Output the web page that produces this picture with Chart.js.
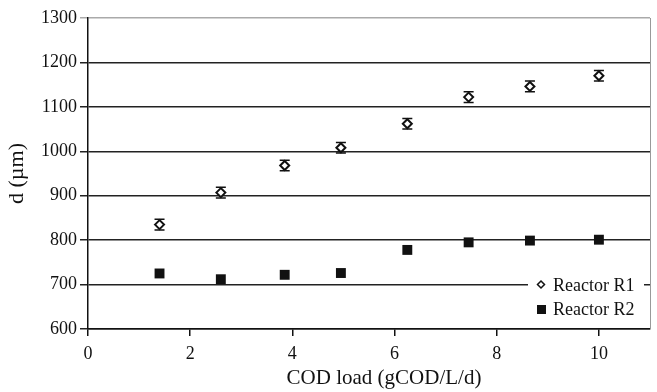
<!DOCTYPE html>
<html>
<head>
<meta charset="utf-8">
<script src="https://cdn.jsdelivr.net/npm/chart.js"></script>
<style>
  html, body { margin: 0; padding: 0; background: #fff; }
  #wrap { width: 657px; height: 392px; }
</style>
</head>
<body>
<div id="wrap"><canvas id="chart" width="657" height="392"></canvas></div>
<script>
// values
const codLoad = [1.4, 2.6, 3.85, 4.95, 6.25, 7.45, 8.65, 10.0];
const r1Diam = [835, 907, 968, 1008, 1062, 1122, 1146, 1170];
const r1Err = [12, 12, 12, 12, 12, 12, 12, 12];
const r2Diam = [725, 712, 722, 726, 778, 795, 799, 801];
const xTicks = [0, 2, 4, 6, 8, 10];
const yTicks = [600, 700, 800, 900, 1000, 1100, 1200, 1300];

const FONT = "'Liberation Serif', 'Times New Roman', serif";

const errorBars = {
  id: 'errorBars',
  afterDatasetsDraw(chart) {
    const { ctx, scales: { x, y } } = chart;
    ctx.save();
    ctx.strokeStyle = '#111';
    ctx.lineWidth = 1.5;
    codLoad.forEach((v, i) => {
      const px = x.getPixelForValue(v);
      const top = y.getPixelForValue(r1Diam[i] + r1Err[i]);
      const bot = y.getPixelForValue(r1Diam[i] - r1Err[i]);
      ctx.beginPath();
      ctx.moveTo(px - 5, top); ctx.lineTo(px + 5, top);
      ctx.moveTo(px - 5, bot); ctx.lineTo(px + 5, bot);
      ctx.stroke();
    });
    ctx.restore();
  }
};

const frameAndLegend = {
  id: 'frameAndLegend',
  afterDraw(chart) {
    const { ctx, chartArea: a } = chart;
    ctx.save();
    ctx.strokeStyle = '#999';
    ctx.lineWidth = 1;
    ctx.beginPath();
    ctx.moveTo(a.right + 0.5, a.top);
    ctx.lineTo(a.right + 0.5, a.bottom);
    ctx.stroke();
    // x axis title (sits a little right of centre in the original)
    ctx.fillStyle = '#111';
    ctx.font = '21px ' + FONT;
    ctx.textAlign = 'center';
    ctx.textBaseline = 'alphabetic';
    ctx.fillText('COD load (gCOD/L/d)', 384, 384);
    // legend box
    ctx.textAlign = 'left';
    ctx.fillStyle = '#fff';
    ctx.fillRect(528, 273, 116, 48);
    ctx.font = '18px ' + FONT;
    ctx.fillStyle = '#111';
    ctx.fillText('Reactor R1', 553, 291);
    ctx.fillText('Reactor R2', 553, 315);
    ctx.strokeStyle = '#111';
    ctx.lineWidth = 1.5;
    ctx.fillStyle = '#fff';
    ctx.beginPath();
    ctx.moveTo(541, 281); ctx.lineTo(544.5, 284.5); ctx.lineTo(541, 288); ctx.lineTo(537.5, 284.5);
    ctx.closePath();
    ctx.fill(); ctx.stroke();
    ctx.fillStyle = '#111';
    ctx.fillRect(537, 305, 9, 9);
    ctx.restore();
  }
};

new Chart(document.getElementById('chart'), {
  type: 'scatter',
  data: {
    datasets: [
      {
        label: 'Reactor R1',
        data: codLoad.map((v, i) => ({ x: v, y: r1Diam[i] })),
        pointStyle: 'rectRot',
        pointRadius: 4.5,
        pointBackgroundColor: '#fff',
        pointBorderColor: '#111',
        pointBorderWidth: 2
      },
      {
        label: 'Reactor R2',
        data: codLoad.map((v, i) => ({ x: v, y: r2Diam[i] })),
        pointStyle: 'rect',
        pointRadius: 7,
        pointBackgroundColor: '#111',
        pointBorderColor: '#111',
        pointBorderWidth: 0
      }
    ]
  },
  options: {
    responsive: false,
    animation: false,
    layout: { padding: { top: 18, right: 7, left: 0, bottom: 0 } },
    plugins: { legend: { display: false }, tooltip: { enabled: false } },
    scales: {
      x: {
        type: 'linear',
        min: 0,
        max: 11,
        afterBuildTicks: s => { s.ticks = xTicks.map(v => ({ value: v })); },
        afterFit: s => { s.height = 63; },
        grid: { drawOnChartArea: false, drawTicks: true, tickLength: 7, color: '#111', lineWidth: 1.5 },
        border: { color: '#111', width: 1.5 },
        ticks: { color: '#111', font: { family: FONT, size: 18 }, padding: 7, callback: v => String(v) },
        title: { display: false }
      },
      y: {
        min: 600,
        max: 1300,
        afterBuildTicks: s => { s.ticks = yTicks.map(v => ({ value: v })); },
        afterFit: s => { s.width = 88; },
        grid: {
          color: c => c.tick && c.tick.value === 1300 ? '#aaa' : '#222',
          lineWidth: 1.5,
          tickLength: 8
        },
        border: { color: '#111', width: 1.5 },
        ticks: { color: '#111', font: { family: FONT, size: 18 }, padding: 3, callback: v => String(v) },
        title: { display: true, text: 'd (µm)', color: '#111', font: { family: FONT, size: 22 }, padding: { top: 4, bottom: 0 } }
      }
    }
  },
  plugins: [errorBars, frameAndLegend]
});
</script>
</body>
</html>
